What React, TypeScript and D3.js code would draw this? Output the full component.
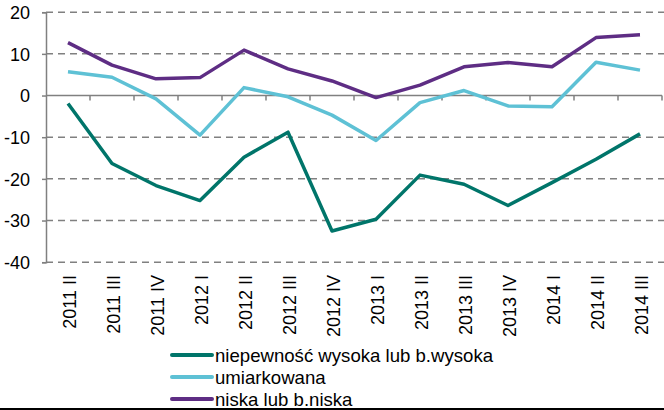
import React, { useEffect, useRef } from 'react';
import * as d3 from 'd3';

const categories = [
  '2011 II', '2011 III', '2011 IV', '2012 I', '2012 II', '2012 III', '2012 IV',
  '2013 I', '2013 II', '2013 III', '2013 IV', '2014 I', '2014 II', '2014 III',
];

const wysoka = [-1.9, -16.3, -21.6, -25.2, -14.8, -8.8, -32.5, -29.7, -19.1, -21.3, -26.4, -20.9, -15.3, -9.2];
const umiarkowana = [5.7, 4.4, -0.8, -9.5, 1.9, -0.3, -4.7, -10.8, -1.7, 1.2, -2.5, -2.7, 8.0, 6.1];
const niska = [12.7, 7.3, 4.0, 4.3, 10.9, 6.4, 3.5, -0.5, 2.5, 6.9, 7.9, 6.9, 13.9, 14.6];

const yTicks = [20, 10, 0, -10, -20, -30, -40];

const series = [
  { name: 'niepewność wysoka lub b.wysoka', values: wysoka, color: '#00756a' },
  { name: 'umiarkowana', values: umiarkowana, color: '#5ec1d5' },
  { name: 'niska lub b.niska', values: niska, color: '#5e2d84' },
];

export default function App() {
  const svgRef = useRef<SVGSVGElement>(null);
  const width = 664;
  const height = 410;

  useEffect(() => {
    if (!svgRef.current) return;
    const root = d3.select(svgRef.current);
    root.selectAll('*').remove();

    const left = 46;
    const right = 662;
    const top = 12.2;
    const bottom = 262.2;
    const font = '"Liberation Sans", Arial, sans-serif';
    const grey = '#808080';

    const x = d3.scaleBand().domain(categories).range([left, right]);
    const y = d3.scaleLinear().domain([-40, 20]).range([bottom, top]);

    // dashed gridlines
    root
      .append('g')
      .selectAll('line')
      .data(yTicks.filter(t => t !== 0))
      .enter()
      .append('line')
      .attr('x1', left)
      .attr('x2', width)
      .attr('y1', d => y(d))
      .attr('y2', d => y(d))
      .attr('stroke', grey)
      .attr('stroke-width', 1.5)
      .attr('stroke-dasharray', '7,5');

    // y axis
    const yAxis = root
      .append('g')
      .attr('transform', `translate(${left},0)`)
      .call(d3.axisLeft(y).tickValues(yTicks).tickSize(4).tickPadding(12).tickFormat(d => String(d)));
    yAxis.select('.domain').attr('stroke', grey).attr('stroke-width', 1.5);
    yAxis.selectAll('.tick line').attr('stroke', grey).attr('stroke-width', 1.5);
    yAxis
      .selectAll('text')
      .attr('fill', '#000')
      .attr('font-size', '18px')
      .attr('font-family', font)
      .attr('dy', '0.35em');

    // zero line with category ticks
    root
      .append('line')
      .attr('x1', left)
      .attr('x2', right)
      .attr('y1', y(0))
      .attr('y2', y(0))
      .attr('stroke', grey)
      .attr('stroke-width', 1.5);
    root
      .append('g')
      .selectAll('line')
      .data(categories)
      .enter()
      .append('line')
      .attr('x1', d => x(d)! + x.bandwidth())
      .attr('x2', d => x(d)! + x.bandwidth())
      .attr('y1', y(0))
      .attr('y2', y(0) + 5)
      .attr('stroke', grey)
      .attr('stroke-width', 1.5);

    // category labels, rotated
    root
      .append('g')
      .selectAll('text')
      .data(categories)
      .enter()
      .append('text')
      .attr('transform', d => `translate(${x(d)! + x.bandwidth() / 2 + 1.5},275) rotate(-90)`)
      .attr('text-anchor', 'end')
      .attr('dy', '0.35em')
      .attr('font-size', '18px')
      .attr('font-family', font)
      .attr('fill', '#000')
      .text(d => d);

    // lines
    const line = d3
      .line<number>()
      .x((_, i) => x(categories[i])! + x.bandwidth() / 2)
      .y(d => y(d));

    root
      .append('g')
      .selectAll('path')
      .data(series)
      .enter()
      .append('path')
      .attr('d', d => line(d.values))
      .attr('fill', 'none')
      .attr('stroke', d => d.color)
      .attr('stroke-width', 3.5)
      .attr('stroke-linejoin', 'round');

    // legend
    const legend = root
      .append('g')
      .selectAll('g')
      .data(series)
      .enter()
      .append('g')
      .attr('transform', (_, i) => `translate(0,${355 + i * 22})`);
    legend
      .append('line')
      .attr('x1', 172)
      .attr('x2', 212)
      .attr('stroke', d => d.color)
      .attr('stroke-width', 4)
      .attr('stroke-linecap', 'round');
    legend
      .append('text')
      .attr('x', 215)
      .attr('dy', '0.35em')
      .attr('font-size', '18.6px')
      .attr('font-family', font)
      .attr('fill', '#000')
      .text(d => d.name);

    // bottom rule
    root
      .append('line')
      .attr('x1', 0)
      .attr('x2', width)
      .attr('y1', 409)
      .attr('y2', 409)
      .attr('stroke', '#000')
      .attr('stroke-width', 2);
  }, []);

  return (
    <svg
      ref={svgRef}
      width={width}
      height={height}
      style={{ position: 'absolute', left: 0, top: 0, background: '#fff' }}
    ></svg>
  );
}
